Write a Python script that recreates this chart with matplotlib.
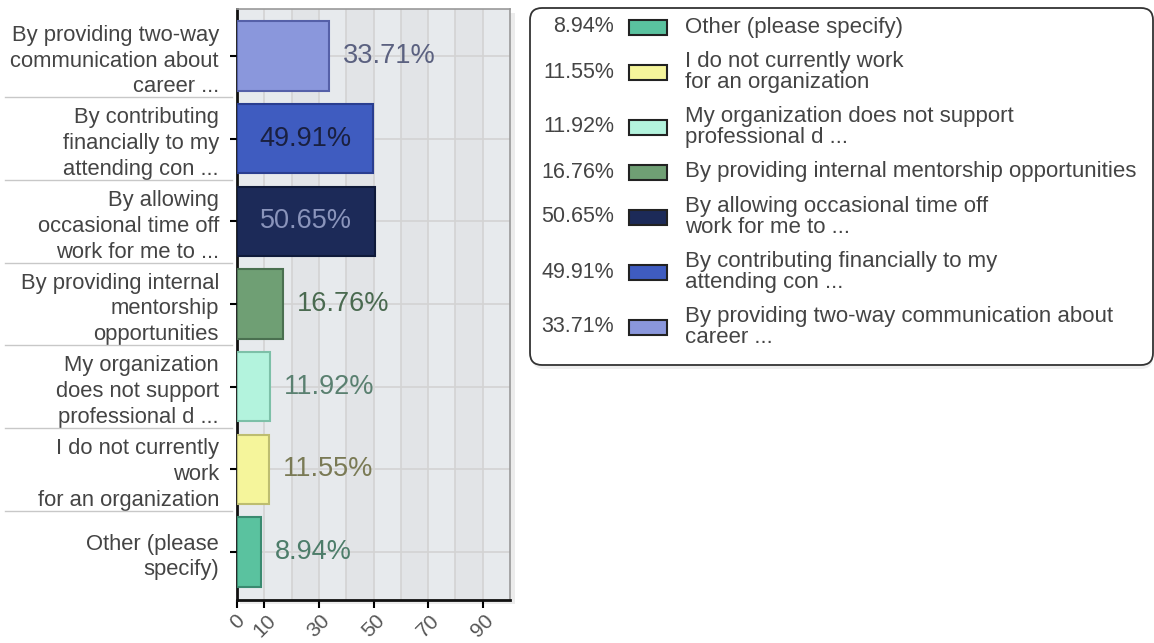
import matplotlib
matplotlib.use("Agg")
import matplotlib.pyplot as plt
import matplotlib.transforms as mtransforms
from matplotlib.patches import Rectangle, FancyBboxPatch
from matplotlib.lines import Line2D

plt.rcParams['font.family'] = ['Liberation Sans', 'DejaVu Sans']

# categories top to bottom
categories = [
    "By providing two-way\ncommunication about\ncareer ...",
    "By contributing\nfinancially to my\nattending con ...",
    "By allowing\noccasional time off\nwork for me to ...",
    "By providing internal\nmentorship\nopportunities",
    "My organization\ndoes not support\nprofessional d ...",
    "I do not currently\nwork\nfor an organization",
    "Other (please\nspecify)",
]
legend_labels = [
    "By providing two-way communication about\ncareer ...",
    "By contributing financially to my\nattending con ...",
    "By allowing occasional time off\nwork for me to ...",
    "By providing internal mentorship opportunities",
    "My organization does not support\nprofessional d ...",
    "I do not currently work\nfor an organization",
    "Other (please specify)",
]
values = [33.71, 49.91, 50.65, 16.76, 11.92, 11.55, 8.94]

bar_colors = ['#8a97dc', '#3f5cc0', '#1c2a58', '#6f9f74', '#b3f3dd', '#f5f59b', '#5ac29f']
edge_colors = ['#5560a8', '#2a3e90', '#0f1a3a', '#4a7050', '#7dc0a8', '#bdbd70', '#3a8a70']
label_colors = ['#5b6180', '#1a2040', '#8a94bb', '#4a6a50', '#5a8070', '#7a7a55', '#4d7d6a']

xticks = [0, 10, 30, 50, 70, 90]

W, H = 1154, 643
fig = plt.figure(figsize=(W / 100, H / 100), dpi=100)
fig.patch.set_facecolor('white')

# plot area (pixels)
L, R, T, B = 237, 510, 9, 600
ax = fig.add_axes([L / W, 1 - B / H, (R - L) / W, (B - T) / H])

# drop shadow behind plot area
fig.add_artist(Rectangle(((L + 3) / W, 1 - (B + 4) / H), (R - L + 2) / W, (B - T) / H,
                         transform=fig.transFigure, facecolor='#ececec', edgecolor='none', zorder=0))

ax.set_facecolor('#e7eaed')
ax.set_xlim(0, 100)
ax.set_ylim(len(values) - 0.42, -0.57)

# alternating column bands + grid
for x0 in [20, 40, 60, 80]:
    ax.axvspan(x0, x0 + 10, color='#e2e4e7', zorder=0, lw=0)
for x in range(10, 100, 10):
    ax.axvline(x, color='#d3d3d3', lw=1.2, zorder=1)
ypos = list(range(len(values)))
for y in ypos:
    ax.axhline(y, color='#d3d3d3', lw=1.2, zorder=1)

ax.barh(ypos, values, height=0.84, color=bar_colors, edgecolor=edge_colors, linewidth=1.5, zorder=3)

for y, v, c in zip(ypos, values, label_colors):
    if v > 40:
        ax.text(v / 2, y, f"{v:.2f}%", ha='center', va='center', fontsize=19.5, color=c, zorder=4)
    else:
        ax.annotate(f"{v:.2f}%", (v, y), xytext=(10, 0), textcoords='offset points',
                    ha='left', va='center', fontsize=19.5, color=c, zorder=4)

ax.set_yticks(ypos)
ax.set_yticklabels(categories, fontsize=15.8, color='#444444', ha='right', linespacing=1.3)
ax.set_xticks(xticks)
ax.set_xticklabels([str(t) for t in xticks], rotation=45, fontsize=15, color='#555555', ha='center')
ax.tick_params(axis='y', length=5, width=1.5, pad=8)
ax.tick_params(axis='x', length=6, width=1.5, pad=2)

for s in ['left', 'bottom']:
    ax.spines[s].set_linewidth(2)
    ax.spines[s].set_color('#111111')
for s in ['top', 'right']:
    ax.spines[s].set_linewidth(1.2)
    ax.spines[s].set_color('#999999')

# separators between category labels
trans = mtransforms.blended_transform_factory(fig.transFigure, ax.transData)
for y in ypos[:-1]:
    fig.add_artist(Line2D([5 / W, 232 / W], [y + 0.5, y + 0.5], transform=trans,
                          color='#c8c8c8', lw=1.0))

# legend (drawn by hand: value, swatch, label)
lx0, lx1, ly0, ly1 = 530, 1153, 8, 365
lax = fig.add_axes([0, 0, 1, 1], facecolor='none')
lax.set_xlim(0, W)
lax.set_ylim(H, 0)
lax.axis('off')
lax.add_patch(FancyBboxPatch((lx0 + 2, ly0 + 4), lx1 - lx0 - 2, ly1 - ly0,
                             boxstyle='round,pad=0,rounding_size=12',
                             facecolor='#eeeeee', edgecolor='none', zorder=1))
lax.add_patch(FancyBboxPatch((lx0, ly0), lx1 - lx0, ly1 - ly0,
                             boxstyle='round,pad=0,rounding_size=12',
                             facecolor='white', edgecolor='#333333', linewidth=1.3, zorder=2))

single_h, double_h = 35, 55
yc = 27
prev_h = None
for i in range(len(values) - 1, -1, -1):
    h = double_h if '\n' in legend_labels[i] else single_h
    if prev_h is not None:
        yc += (prev_h + h) / 2
    prev_h = h
    lax.text(614, yc, f"{values[i]:.2f}%", ha='right', va='center', fontsize=15.5,
             color='#444444', zorder=3)
    lax.add_patch(Rectangle((629, yc - 7.5), 38, 15, facecolor=bar_colors[i],
                            edgecolor='#222222', linewidth=1.5, zorder=3))
    lax.text(685, yc, legend_labels[i], ha='left', va='center', fontsize=16,
             color='#444444', linespacing=1.05, zorder=3)

fig.savefig('out.png', dpi=100)
